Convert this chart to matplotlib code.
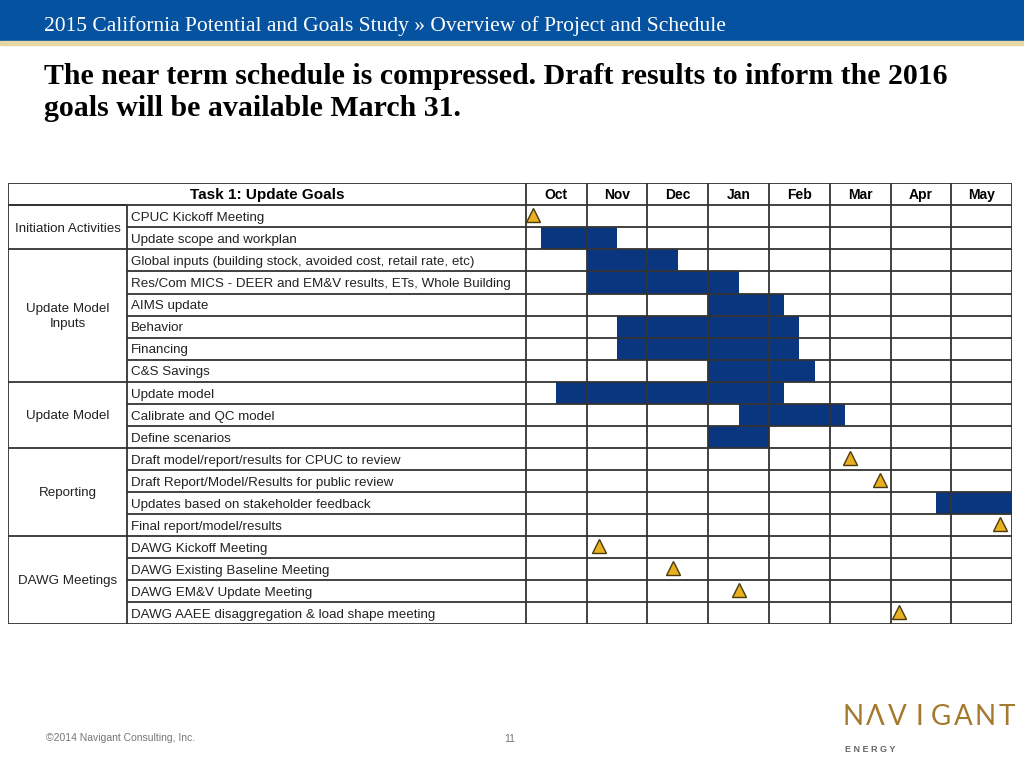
import matplotlib
matplotlib.use('Agg')
import matplotlib.pyplot as plt
from matplotlib.patches import Rectangle

# ---- data ----
months = ['Oct', 'Nov', 'Dec', 'Jan', 'Feb', 'Mar', 'Apr', 'May']
tasks = ['CPUC Kickoff Meeting',
         'Update scope and workplan',
         'Global inputs (building stock, avoided cost, retail rate, etc)',
         'Res/Com MICS - DEER and EM&V results, ETs, Whole Building',
         'AIMS update',
         'Behavior',
         'Financing',
         'C&S Savings',
         'Update model',
         'Calibrate and QC model',
         'Define scenarios',
         'Draft model/report/results for CPUC to review',
         'Draft Report/Model/Results for public review',
         'Updates based on stakeholder feedback',
         'Final report/model/results',
         'DAWG Kickoff Meeting',
         'DAWG Existing Baseline Meeting',
         'DAWG EM&V Update Meeting',
         'DAWG AAEE disaggregation & load shape meeting']
groups = ['Initiation Activities', 'Update Model\nInputs', 'Update Model',
          'Reporting', 'DAWG Meetings']
group_sizes = [2, 6, 3, 4, 4]

# bars: task index, start, end (months after Oct 1)
bar_task = [1, 2, 3, 4, 5, 6, 7, 8, 9, 10, 13]
bar_start = [0.25, 1.0, 1.0, 3.0, 1.5, 1.5, 3.0, 0.5, 3.5, 3.0, 6.75]
bar_end = [1.5, 2.5, 3.5, 4.25, 4.5, 4.5, 4.75, 4.25, 5.25, 4.0, 8.0]

# milestones: task index, time (months after Oct 1)
ms_task = [0, 11, 12, 14, 15, 16, 17, 18]
ms_time = [0.12, 5.33, 5.82, 7.8, 1.2, 2.42, 3.5, 6.14]

navy = '#0A3680'
gold = '#E8B020'
line_c = '#333333'

fig = plt.figure(figsize=(10.24, 7.68), dpi=100)

# top banner
fig.patches.append(Rectangle((0, 1 - 41 / 768), 1, 41 / 768, transform=fig.transFigure,
                             color='#0552A0', zorder=0))
fig.patches.append(Rectangle((0, 1 - 45 / 768), 1, 4 / 768, transform=fig.transFigure,
                             color='#E6D8A6', zorder=0))
fig.text(44 / 1024, 1 - 26 / 768, '2015 California Potential and Goals Study \u00bb Overview of Project and Schedule',
         color='white', fontsize=15.5, family='Liberation Serif', va='center')
fig.text(44 / 1024, 1 - 63 / 768,
         'The near term schedule is compressed. Draft results to inform the 2016\ngoals will be available March 31.',
         fontsize=21.5, family='Liberation Serif', fontweight='bold', va='top', linespacing=1.22)

# table axes, x in months (0 = Oct 1), y in rows (0 = header)
x_left, x_cat = -8.51, -6.56
x_task = x_cat + 0.06
ax = fig.add_axes([8.3 / 1024, 1 - 624.3 / 768, (1012.3 - 8.3) / 1024, 441 / 768])
ax.set_xlim(x_left, len(months))
ax.set_ylim(len(tasks) + 1, 0)
ax.axis('off')

rows = [t + 1.5 for t in bar_task]
ax.barh(rows, [e - s for s, e in zip(bar_start, bar_end)], left=bar_start,
        height=1.0, color=navy, zorder=2)
ax.plot(ms_time, [t + 1.45 for t in ms_task], linestyle='none', marker='^',
        markersize=9.5, markerfacecolor=gold, markeredgecolor='#4a3a10',
        markeredgewidth=1.0, zorder=4)

lw = 1.3
n = len(tasks)
# horizontal lines
ax.hlines([0, 1], x_left, len(months), color=line_c, lw=lw, zorder=3)
ax.hlines(range(2, n + 2), x_cat, len(months), color=line_c, lw=lw, zorder=3)
bounds = [1]
for g in group_sizes:
    bounds.append(bounds[-1] + g)
ax.hlines(bounds, x_left, x_cat, color=line_c, lw=lw, zorder=3)
# vertical lines
ax.vlines([x_left], 0, n + 1, color=line_c, lw=lw, zorder=3)
ax.vlines([x_cat], 1, n + 1, color=line_c, lw=lw, zorder=3)
ax.vlines(range(0, len(months) + 1), 0, n + 1, color=line_c, lw=lw, zorder=3)

# header row
ax.text((x_left + 0) / 2, 0.55, 'Task 1: Update Goals', ha='center', va='center',
        fontsize=11, fontweight='bold', family='Liberation Sans')
for i, m in enumerate(months):
    ax.text(i + 0.5, 0.55, m, ha='center', va='center', fontsize=10,
            fontweight='bold', family='Liberation Sans')

for i, t in enumerate(tasks):
    ax.text(x_task, i + 1.58, t, ha='left', va='center', fontsize=9.6,
            family='Liberation Sans', color='#222222')
for g, b0, b1 in zip(groups, bounds[:-1], bounds[1:]):
    ax.text((x_left + x_cat) / 2, (b0 + b1) / 2 + 0.05, g, ha='center', va='center',
            fontsize=9.6, family='Liberation Sans', color='#222222', linespacing=1.35)

# footer
fig.text(46 / 1024, 1 - 738 / 768, '\u00a92014 Navigant Consulting, Inc.', fontsize=7.5,
         color='#777777', family='Liberation Sans', va='center')
fig.text(510 / 1024, 1 - 739 / 768, '11', fontsize=7.5, color='#777777',
         family='Liberation Sans', va='center', ha='center')
for i, ch in enumerate('N\u039bVIGANT'):
    fig.text((853 + 22 * i) / 1024, 1 - 717 / 768, ch, fontsize=20,
             color='#A57A30', family='Lato', va='center', ha='center')
fig.text(845 / 1024, 1 - 750 / 768, 'E N E R G Y', fontsize=6.5, color='#666666',
         family='Liberation Sans', fontweight='bold', va='center')

fig.savefig('out.png', dpi=100)
